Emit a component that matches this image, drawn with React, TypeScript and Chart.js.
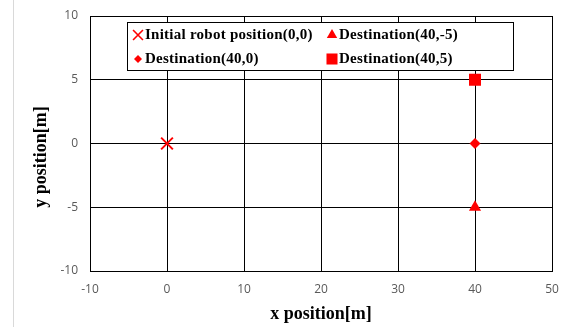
import { useEffect, useRef } from 'react';
import { Chart, registerables } from 'chart.js';

Chart.register(...registerables);

const seriesLabels = [
  'Initial robot position(0,0)',
  'Destination(40,-5)',
  'Destination(40,0)',
  'Destination(40,5)',
];
const seriesX = [0, 40, 40, 40];
const seriesY = [0, -5, 0, 5];
const xTicks = [-10, 0, 10, 20, 30, 40, 50];
const yTicks = [-10, -5, 0, 5, 10];
const xTitle = 'x position[m]';
const yTitle = 'y position[m]';

const RED = '#FF0000';
const styles = ['crossRot', 'triangle', 'rectRot', 'rect'];
const radii = [8.3, 7, 5.5, 8.5];
const legendRadii = [7, 6, 4, 7.8];

function drawMarker(ctx: CanvasRenderingContext2D, style: string, x: number, y: number, r: number) {
  ctx.save();
  ctx.fillStyle = RED;
  ctx.strokeStyle = RED;
  ctx.beginPath();
  if (style === 'crossRot') {
    const d = r * Math.SQRT1_2;
    ctx.lineWidth = 1.6;
    ctx.moveTo(x - d, y - d);
    ctx.lineTo(x + d, y + d);
    ctx.moveTo(x - d, y + d);
    ctx.lineTo(x + d, y - d);
    ctx.stroke();
  } else if (style === 'triangle') {
    ctx.moveTo(x, y - r);
    ctx.lineTo(x + r * 0.866, y + r / 2);
    ctx.lineTo(x - r * 0.866, y + r / 2);
    ctx.closePath();
    ctx.fill();
  } else if (style === 'rectRot') {
    ctx.moveTo(x, y - r);
    ctx.lineTo(x + r, y);
    ctx.lineTo(x, y + r);
    ctx.lineTo(x - r, y);
    ctx.closePath();
    ctx.fill();
  } else {
    const s = r * Math.SQRT1_2;
    ctx.rect(x - s, y - s, 2 * s, 2 * s);
    ctx.fill();
  }
  ctx.restore();
}

const legendPlugin = {
  id: 'boxLegend',
  afterDraw(chart: any) {
    const ctx: any = chart.ctx;
    ctx.save();
    ctx.translate(41, 157);
    ctx.rotate(-Math.PI / 2);
    ctx.font = 'bold 18px "Liberation Serif"';
    ctx.fillStyle = '#000000';
    ctx.textAlign = 'center';
    ctx.textBaseline = 'middle';
    ctx.fillText(yTitle, 0, 0);
    ctx.restore();

    const bx = 127.5, by = 22.5, bw = 386, bh = 48;
    ctx.save();
    ctx.fillStyle = '#FFFFFF';
    ctx.fillRect(bx, by, bw, bh);
    ctx.strokeStyle = '#000000';
    ctx.lineWidth = 1;
    ctx.strokeRect(bx, by, bw, bh);
    ctx.font = 'bold 15px "Liberation Serif"';
    if ('letterSpacing' in ctx) ctx.letterSpacing = '0.25px';
    ctx.textBaseline = 'middle';
    ctx.textAlign = 'left';
    const colMarker = [138, 332];
    const colText = [145, 339];
    const rowY = [35, 59];
    chart.data.datasets.forEach((ds: any, i: number) => {
      const col = i % 2;
      const row = Math.floor(i / 2);
      drawMarker(ctx, styles[i], colMarker[col], rowY[row], legendRadii[i]);
      ctx.fillStyle = '#000000';
      ctx.fillText(ds.label, colText[col], rowY[row] + 0.5);
    });
    ctx.restore();
  },
};

function zeroPad(s: any) {
  s.paddingLeft = 0;
  s.paddingRight = 0;
  s.paddingTop = 0;
  s.paddingBottom = 0;
}

export default function App() {
  const ref = useRef<HTMLCanvasElement>(null);
  useEffect(() => {
    if (!ref.current) return;
    const datasets = seriesLabels.map((label, i) => ({
      label,
      data: [{ x: seriesX[i], y: seriesY[i] }],
      pointStyle: styles[i],
      pointRadius: radii[i],
      pointHoverRadius: radii[i],
      backgroundColor: RED,
      borderColor: RED,
      borderWidth: styles[i] === 'crossRot' ? 2 : 0,
      showLine: false,
    }));
    const chart = new Chart(ref.current, {
      type: 'scatter',
      data: { datasets },
      options: {
        responsive: false,
        animation: false,
        layout: { autoPadding: false, padding: { left: 0, top: 16, right: 15, bottom: 0 } },
        plugins: { legend: { display: false }, tooltip: { enabled: false } },
        scales: {
          x: {
            type: 'linear',
            min: xTicks[0],
            max: xTicks[xTicks.length - 1],
            ticks: {
              stepSize: xTicks[1] - xTicks[0],
              color: '#595959',
              font: { family: '"Open Sans"', size: 12 },
              padding: 11,
              maxRotation: 0,
            },
            grid: { color: '#000000', lineWidth: 1, drawTicks: false },
            border: { color: '#000000', width: 1 },
            title: {
              display: true,
              text: xTitle,
              color: '#000000',
              font: { family: '"Liberation Serif"', size: 18, weight: 'bold' },
              padding: { top: 0, bottom: 2 },
            },
            afterFit: (s: any) => { s.height = 56; zeroPad(s); },
          },
          y: {
            type: 'linear',
            min: yTicks[0],
            max: yTicks[yTicks.length - 1],
            ticks: {
              stepSize: yTicks[1] - yTicks[0],
              color: '#595959',
              font: { family: '"Open Sans"', size: 12 },
              padding: 12,
            },
            grid: { color: '#000000', lineWidth: 1, drawTicks: false },
            border: { color: '#000000', width: 1 },
            title: { display: false },
            afterFit: (s: any) => { s.width = 90; zeroPad(s); },
          },
        },
      },
      plugins: [legendPlugin],
    } as any);
    return () => chart.destroy();
  }, []);
  return (
    <div style={{ position: 'absolute', left: 0, top: 0, width: 567, height: 327, background: '#fff' }}>
      <div style={{ position: 'absolute', left: 13, top: 0, width: 1, height: 327, background: '#D9D9D9' }} />
      <canvas ref={ref} width={567} height={327} style={{ position: 'absolute', left: 0, top: 0, width: 567, height: 327 }} />
    </div>
  );
}
